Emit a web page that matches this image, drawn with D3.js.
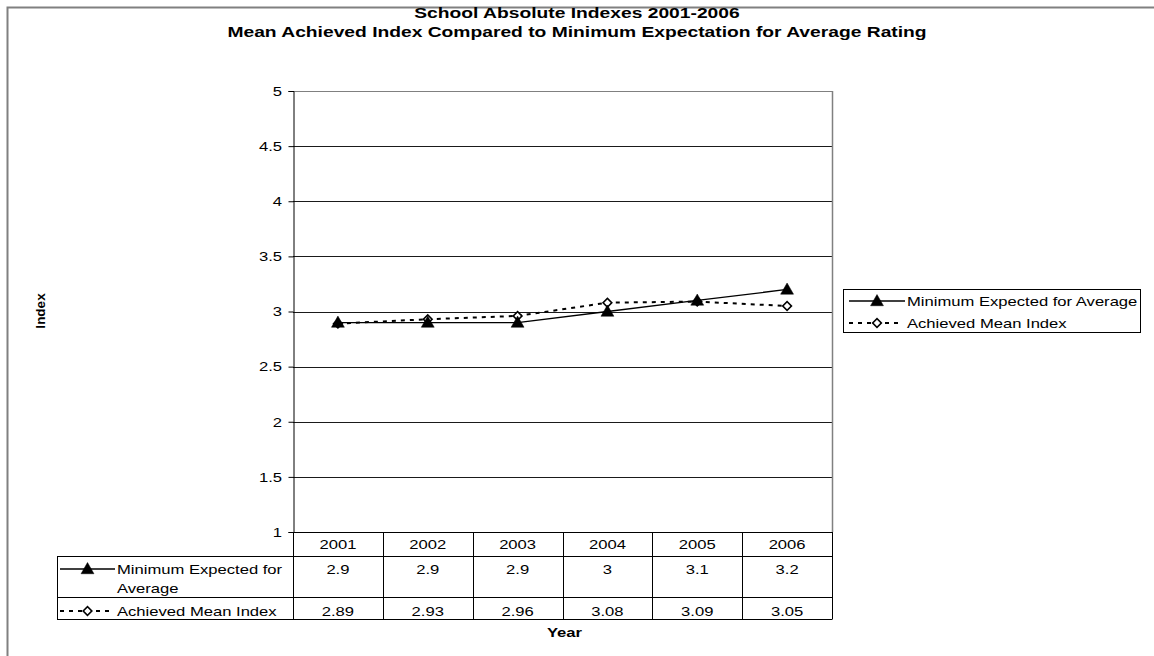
<!DOCTYPE html>
<html>
<head>
<meta charset="utf-8">
<script src="https://cdn.jsdelivr.net/npm/d3@7/dist/d3.min.js"></script>
<style>
  html, body { margin: 0; padding: 0; background: #fff; }
  svg { display: block; }
  text { font-family: "Liberation Sans", Arial, sans-serif; fill: #000; }
</style>
</head>
<body>
<svg id="chart" width="1154" height="656"></svg>
<script>
// Chart data
const years = ["2001", "2002", "2003", "2004", "2005", "2006"];
const minimumExpected = [2.9, 2.9, 2.9, 3, 3.1, 3.2];
const achievedMean = [2.89, 2.93, 2.96, 3.08, 3.09, 3.05];
const seriesNames = ["Minimum Expected for Average", "Achieved Mean Index"];
const tableLabels = [["Minimum Expected for", "Average"], ["Achieved Mean Index"]];
const yTicks = [1, 1.5, 2, 2.5, 3, 3.5, 4, 4.5, 5];
const titleLines = ["School Absolute Indexes 2001-2006",
  "Mean Achieved Index Compared to Minimum Expectation for Average Rating"];

const svg = d3.select("#chart");
const SX = 1.24;           // horizontal text stretch
const FS = 13.4;           // body font size
const DASH = "4,5";        // dashed series pattern
const plot = { left: 293, right: 832, top: 91, bottom: 532 };

// Text helper: wide-set glyphs
function label(parent, x, y, str, o = {}) {
  const g = parent.append("g").attr("transform", `translate(${x},${y}) scale(${o.sx || SX},1)` + (o.rotate ? ` rotate(${o.rotate})` : ""));
  return g.append("text")
    .attr("text-anchor", o.anchor || "start")
    .attr("font-size", o.size || FS)
    .attr("font-weight", o.bold ? "bold" : "normal")
    .text(str);
}

// Outer frame
svg.append("path").attr("d", "M7.5,656 V7.5 H1154")
  .attr("fill", "none").attr("stroke", "#808080").attr("stroke-width", 2);

// Titles
titleLines.forEach((t, i) => label(svg, 577, 18 + i * 18.5, t, { anchor: "middle", bold: true, size: 15.4, sx: 1.25 }));

const x = d3.scaleBand().domain(years).range([plot.left, plot.right]).padding(0);
const y = d3.scaleLinear().domain([1, 5]).range([plot.bottom, plot.top]);
const cx = d => x(d) + x.bandwidth() / 2;

// Gridlines
svg.append("g").selectAll("line").data(yTicks.slice(1)).join("line")
  .attr("x1", plot.left).attr("x2", plot.right)
  .attr("y1", d => Math.round(y(d)) + 0.5).attr("y2", d => Math.round(y(d)) + 0.5)
  .attr("stroke", d => d === 5 ? "#808080" : "#1a1a1a").attr("stroke-width", 1);

// Plot area right border
svg.append("line").attr("x1", plot.right + 0.5).attr("x2", plot.right + 0.5)
  .attr("y1", plot.top).attr("y2", plot.bottom)
  .attr("stroke", "#808080").attr("stroke-width", 1.5);

// Y axis
const yAxis = svg.append("g").attr("transform", `translate(${plot.left + 0.5},0)`)
  .call(d3.axisLeft(y).tickValues(yTicks).tickSize(5).tickFormat(d3.format("")));
yAxis.select(".domain").attr("stroke", "#000");
yAxis.selectAll(".tick line").attr("stroke", "#000");
yAxis.selectAll(".tick text").remove();
yTicks.forEach(t => label(svg, plot.left - 11, y(t) + 4.8, d3.format("")(t), { anchor: "end" }));

// Y axis title
label(svg, 45, 311, "Index", { anchor: "middle", bold: true, size: 13.5, rotate: -90, sx: 1 });

// Markers: filled triangle, hollow diamond (square turned 45°)
const tri = d3.symbol().type(d3.symbolTriangle).size(72);
const sq = d3.symbol().type(d3.symbolSquare).size(38);
const markerAt = (g, px, py, idx) => g.append("path")
  .attr("transform", idx === 0 ? `translate(${px},${py + 1})` : `translate(${px},${py}) rotate(45)`)
  .attr("d", (idx === 0 ? tri : sq)())
  .attr("fill", idx === 0 ? "#000" : "#fff")
  .attr("stroke", "#000").attr("stroke-width", idx === 0 ? 0.5 : 1.6);

function drawSeries(g, values, idx) {
  const line = d3.line().x((d, i) => cx(years[i])).y(d => y(d));
  g.append("path").datum(values).attr("d", line)
    .attr("fill", "none").attr("stroke", "#000")
    .attr("stroke-width", idx === 1 ? 2 : 1.3)
    .attr("stroke-dasharray", idx === 1 ? DASH : null);
  values.forEach((v, i) => markerAt(g, cx(years[i]), y(v), idx));
}
drawSeries(svg.append("g"), achievedMean, 1);
drawSeries(svg.append("g"), minimumExpected, 0);

// Legend key helper
function key(g, x0, x1, yy, idx) {
  g.append("line").attr("x1", x0).attr("x2", idx === 0 ? x1 : x1 - 6).attr("y1", yy).attr("y2", yy)
    .attr("stroke", "#000").attr("stroke-width", idx === 0 ? 1.3 : 2)
    .attr("stroke-dasharray", idx === 0 ? null : DASH);
  markerAt(g, (x0 + x1) / 2, yy, idx);
}

// Data table
const rows = { top: 532, header: 556, r1: 597, r2: 619, left: 57 };
const tg = svg.append("g");
const hl = (x1, x2, yy) => tg.append("line").attr("x1", x1).attr("x2", x2)
  .attr("y1", yy + 0.5).attr("y2", yy + 0.5).attr("stroke", "#000");
const vl = (xx, y1, y2) => tg.append("line").attr("x1", xx + 0.5).attr("x2", xx + 0.5)
  .attr("y1", y1).attr("y2", y2).attr("stroke", "#000");
hl(plot.left, plot.right, rows.top);
hl(rows.left, plot.right, rows.header);
hl(rows.left, plot.right, rows.r1);
hl(rows.left, plot.right, rows.r2);
vl(rows.left, rows.header, rows.r2);
years.forEach(yr => vl(Math.round(x(yr)), rows.top, rows.r2));
vl(plot.right, rows.top, rows.r2 + 0.5);

years.forEach(yr => label(tg, cx(yr), 548.5, yr, { anchor: "middle" }));
minimumExpected.forEach((v, i) => label(tg, cx(years[i]), 573.5, String(v), { anchor: "middle" }));
achievedMean.forEach((v, i) => label(tg, cx(years[i]), 615.5, String(v), { anchor: "middle" }));

key(tg, 60, 115, 569, 0);
label(tg, 117, 574, tableLabels[0][0]);
label(tg, 117, 593, tableLabels[0][1]);
key(tg, 60, 115, 611, 1);
label(tg, 117, 616, tableLabels[1][0]);

// X axis title
label(svg, (plot.left + plot.right) / 2 + 2, 637, "Year", { anchor: "middle", bold: true });

// Legend
const lg = svg.append("g");
lg.append("rect").attr("x", 843.5).attr("y", 289.5).attr("width", 297).attr("height", 43)
  .attr("fill", "#fff").attr("stroke", "#000");
seriesNames.forEach((n, i) => {
  const yy = 301 + i * 22;
  key(lg, 849, 905, yy, i);
  label(lg, 907, yy + 5, n);
});
</script>
</body>
</html>
